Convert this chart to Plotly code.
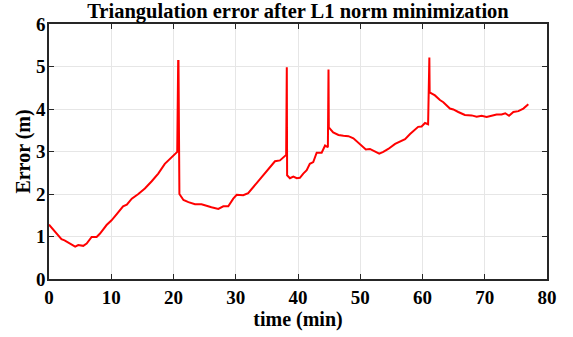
import plotly.graph_objects as go

time_min = [0, 2.0, 2.5, 3.4, 4.2, 4.7, 5.5, 6.05, 6.85, 7.65, 8.2, 9.25, 10.05, 10.85,
            11.9, 12.5, 13.3, 14.35, 15.4, 16.5, 17.55, 18.6, 19.4, 20.6, 20.75, 20.8, 20.95,
            21.6, 22.4, 23.45, 24.5, 25.05, 26.1, 27.2, 28.0, 28.8, 29.6, 30.15, 31.2, 32.0,
            33.1, 34.2, 35.25, 36.3, 37.1, 38.1, 38.2, 38.25,
            38.7, 39.25, 39.8, 40.3, 40.85, 41.4, 41.9, 42.45, 43.0, 43.8, 44.35, 44.8, 44.9, 44.95,
            45.65, 46.5, 47.3, 48.1, 48.9, 49.95, 50.9, 51.55, 52.4, 53.05, 53.7, 54.5,
            55.6, 56.4, 57.2, 58.0, 58.3, 59.3, 59.85, 60.4, 60.9, 61.1, 61.15,
            62.0, 62.8, 63.35, 64.4, 64.95, 65.75, 66.8, 67.9, 68.7, 69.5, 70.3, 71.1,
            71.9, 72.7, 73.3, 73.9, 74.6, 75.4, 76.2, 77.0]
error_m = [1.28, 0.935, 0.91, 0.82, 0.76, 0.80, 0.78, 0.835, 0.99, 0.99, 1.07, 1.27, 1.38, 1.52,
           1.71, 1.75, 1.89, 2.0, 2.13, 2.30, 2.48, 2.71, 2.83, 2.99, 5.13, 5.13, 2.0,
           1.86, 1.81, 1.76, 1.76, 1.73, 1.69, 1.65, 1.71, 1.71, 1.89, 1.98, 1.97, 2.02,
           2.21, 2.41, 2.60, 2.77, 2.79, 2.92, 4.98, 2.44,
           2.37, 2.41, 2.37, 2.38, 2.48, 2.56, 2.71, 2.75, 2.97, 2.97, 3.14, 3.10, 4.93, 3.57,
           3.45, 3.39, 3.37, 3.36, 3.31, 3.18, 3.05, 3.06, 3.0, 2.95, 2.99, 3.06,
           3.18, 3.23, 3.29, 3.41, 3.45, 3.58, 3.59, 3.67, 3.64, 5.21, 4.39,
           4.32, 4.21, 4.16, 4.01, 3.99, 3.93, 3.86, 3.85, 3.82, 3.84, 3.81, 3.84,
           3.87, 3.87, 3.9, 3.84, 3.93, 3.95, 4.01, 4.11]

x_ticks = [0, 10, 20, 30, 40, 50, 60, 70, 80]
y_ticks = [0, 1, 2, 3, 4, 5, 6]

font_family = "Liberation Serif, Times New Roman, serif"

fig = go.Figure()
fig.add_trace(go.Scatter(x=time_min, y=error_m, mode="lines",
                         line=dict(color="#FF0000", width=2), showlegend=False))

axis_common = dict(
    showgrid=True, gridcolor="#e6e6e6", gridwidth=1,
    showline=True, linecolor="#262626", linewidth=1.5,
    mirror="ticks", ticks="inside", ticklen=5, tickcolor="#262626", tickwidth=1,
    zeroline=False,
    tickfont=dict(family=font_family, size=19, color="black"),
)

fig.update_layout(
    width=573, height=337,
    margin=dict(l=49, r=26, t=24, b=55),
    paper_bgcolor="white", plot_bgcolor="white",
    title=dict(text="<b>Triangulation error after L1 norm minimization</b>",
               x=0.5, xref="paper", y=1 - 11 / 337, yref="container", yanchor="middle",
               font=dict(family=font_family, size=20.5, color="black")),
    xaxis=dict(range=[0, 80], tickvals=x_ticks, ticktext=[f"<b>{v}</b>" for v in x_ticks],
               title=dict(text="<b>time (min)</b>", standoff=3,
                          font=dict(family=font_family, size=20, color="black")),
               **axis_common),
    yaxis=dict(range=[0, 6], tickvals=y_ticks, ticktext=[f"<b>{v}</b>" for v in y_ticks],
               ticklabelstandoff=-2,
               title=dict(text="<b>Error (m)</b>", standoff=0,
                          font=dict(family=font_family, size=20, color="black")),
               **axis_common),
)

fig.write_html("out.html")
